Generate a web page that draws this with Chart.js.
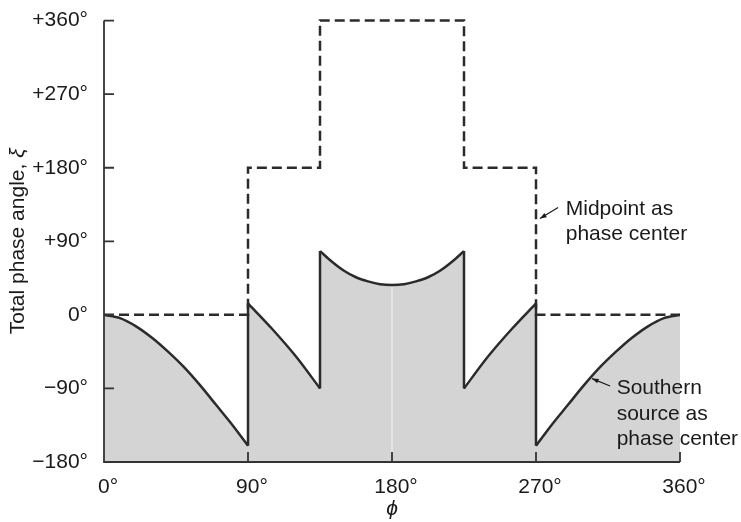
<!DOCTYPE html>
<html>
<head>
<meta charset="utf-8">
<script src="https://cdn.jsdelivr.net/npm/chart.js@4.4.1/dist/chart.umd.min.js"></script>
<style>
  body { margin: 0; background: #fff; }
</style>
</head>
<body>
<canvas id="phaseChart" width="741" height="522"></canvas>
<script>
// southern source as phase center (solid, shaded); null marks a jump
const phiS = [0, 10, 20, 30, 40, 50, 60, 70, 80, 90,
              90,
              90, 105, 120, 135,
              135,
              135, 142.5, 150, 157.5, 165, 172.5, 180, 187.5, 195, 202.5, 210, 217.5, 225,
              225,
              225, 240, 255, 270,
              270,
              270, 280, 290, 300, 310, 320, 330, 340, 350, 360]
const xiS = [0, -4, -14, -28, -45, -64, -86, -110, -134, -160,
             null,
             14, -17, -51, -90,
             null,
             78, 65, 54, 46, 41, 37.5, 36.5, 37.5, 41, 46, 54, 65, 78,
             null,
             -90, -51, -17, 14,
             null,
             -160, -134, -110, -86, -64, -45, -28, -14, -4, 0]

// the vertical jumps of the same curve
const phiJ = [90, 90, 90, 135, 135, 135, 225, 225, 225, 270, 270]
const xiJ = [-160, 14, null, -90, 78, null, 78, -90, null, 14, -160]

// midpoint as phase center (dashed)
const phiM = [0, 90, 90, 135, 135, 225, 225, 270, 270, 360]
const xiM = [0, 0, 180, 180, 360, 360, 180, 180, 0, 0]

const xTicks = [0, 90, 180, 270, 360]
const xTickLabels = ['0°', '90°', '180°', '270°', '360°']
const yTicks = [-180, -90, 0, 90, 180, 270, 360]
const yTickLabels = ['\u2212180°', '\u221290°', '0°', '+90°', '+180°', '+270°', '+360°']

// notes: [text lines, text x, baseline y, arrow from x,y, arrow to x,y] in data units
const notes = [
    [['Midpoint as', 'phase center'], 288.6, 122.4, 283.8, 131.3, 272.5, 117.8],
    [['Southern', 'source as', 'phase center'], 320.4, -97, 316.3, -87, 305, -78]
]

const ink = '#1a1a1a'
const fontFam = "'Liberation Sans', Arial, Helvetica, sans-serif"
Chart.defaults.font.family = fontFam
Chart.defaults.font.size = 21
Chart.defaults.color = ink

function pairs(xs, ys) {
    let out = []
    for (let i = 0; i < xs.length; i++) out.push({x: xs[i], y: ys[i]})
    return out
}

const extras = {
    id: 'extras',
    afterDatasetsDraw(chart) {
        const ctx = chart.ctx
        const x = chart.scales.x, y = chart.scales.y
        // faint seam in the shading at 180
        let i180 = phiS.indexOf(180)
        ctx.save()
        ctx.strokeStyle = 'rgba(255,255,255,0.7)'
        ctx.lineWidth = 1
        ctx.beginPath()
        ctx.moveTo(x.getPixelForValue(180), y.getPixelForValue(xiS[i180]) + 2)
        ctx.lineTo(x.getPixelForValue(180), y.getPixelForValue(-180))
        ctx.stroke()
        ctx.restore()
    },
    afterDraw(chart) {
        const ctx = chart.ctx
        const x = chart.scales.x, y = chart.scales.y
        const a = chart.chartArea
        ctx.save()
        // axes with inward ticks
        ctx.strokeStyle = '#333'
        ctx.lineWidth = 1.8
        ctx.beginPath()
        ctx.moveTo(a.left, a.top)
        ctx.lineTo(a.left, a.bottom)
        ctx.lineTo(a.right, a.bottom)
        xTicks.forEach(v => {
            let px = x.getPixelForValue(v)
            ctx.moveTo(px, a.bottom)
            ctx.lineTo(px, a.bottom - 10)
        })
        yTicks.forEach(v => {
            let py = y.getPixelForValue(v)
            ctx.moveTo(a.left, py)
            ctx.lineTo(a.left + 10, py)
        })
        ctx.stroke()

        // y title with italic xi
        ctx.fillStyle = ink
        ctx.textBaseline = 'middle'
        ctx.textAlign = 'left'
        let t1 = 'Total phase angle, ', t2 = 'ξ'
        ctx.font = '21px ' + fontFam
        let w1 = ctx.measureText(t1).width
        ctx.font = 'italic 21px ' + fontFam
        let w2 = ctx.measureText(t2).width
        ctx.translate(18, (a.top + a.bottom) / 2)
        ctx.rotate(-Math.PI / 2)
        ctx.font = '21px ' + fontFam
        ctx.fillText(t1, -(w1 + w2) / 2, 0)
        ctx.font = 'italic 21px ' + fontFam
        ctx.fillText(t2, -(w1 + w2) / 2 + w1, 0)
        ctx.setTransform(1, 0, 0, 1, 0, 0)

        // annotations
        ctx.font = '21px ' + fontFam
        ctx.textBaseline = 'alphabetic'
        notes.forEach(n => {
            let tx = x.getPixelForValue(n[1]), ty = y.getPixelForValue(n[2])
            n[0].forEach((line, k) => ctx.fillText(line, tx, ty + k * 25.5))
            let x0 = x.getPixelForValue(n[3]), y0 = y.getPixelForValue(n[4])
            let x1 = x.getPixelForValue(n[5]), y1 = y.getPixelForValue(n[6])
            let ang = Math.atan2(y1 - y0, x1 - x0)
            ctx.strokeStyle = ink
            ctx.lineWidth = 1.2
            ctx.beginPath()
            ctx.moveTo(x0, y0)
            ctx.lineTo(x1, y1)
            ctx.stroke()
            ctx.beginPath()
            ctx.moveTo(x1, y1)
            ctx.lineTo(x1 - 7 * Math.cos(ang - 0.35), y1 - 7 * Math.sin(ang - 0.35))
            ctx.lineTo(x1 - 7 * Math.cos(ang + 0.35), y1 - 7 * Math.sin(ang + 0.35))
            ctx.closePath()
            ctx.fillStyle = ink
            ctx.fill()
        })
        ctx.restore()
    }
}

new Chart(document.getElementById('phaseChart'), {
    type: 'line',
    data: {
        datasets: [{
            label: 'Midpoint as phase center',
            data: pairs(phiM, xiM),
            borderColor: '#2b2b2b',
            borderWidth: 2.5,
            borderDash: [10, 5],
            borderJoinStyle: 'miter',
            pointRadius: 0,
            fill: false,
            tension: 0,
            clip: 6
        }, {
            label: 'jumps',
            data: pairs(phiJ, xiJ),
            borderColor: '#2b2b2b',
            borderWidth: 2.5,
            pointRadius: 0,
            fill: false,
            spanGaps: false,
            tension: 0
        }, {
            label: 'Southern source as phase center',
            data: pairs(phiS, xiS),
            borderColor: '#2b2b2b',
            borderWidth: 2.5,
            borderJoinStyle: 'round',
            backgroundColor: '#d4d4d4',
            pointRadius: 0,
            fill: {value: -180},
            spanGaps: false,
            tension: 0.3
        }]
    },
    options: {
        responsive: false,
        animation: false,
        devicePixelRatio: 1,
        layout: {padding: {top: 15, right: 61, bottom: 0, left: 0}},
        plugins: {legend: {display: false}, tooltip: {enabled: false}},
        scales: {
            x: {
                type: 'linear',
                min: 0,
                max: 360,
                afterBuildTicks: s => { s.ticks = xTicks.map(v => ({value: v})) },
                afterFit: s => { s.height = 60 },
                grid: {display: false},
                border: {display: false},
                ticks: {
                    callback: v => xTickLabels[xTicks.indexOf(v)],
                    padding: 5,
                    labelOffset: 4,
                    maxRotation: 0,
                    autoSkip: false
                },
                title: {display: true, text: 'ϕ', font: {style: 'italic', size: 21}, padding: {top: 0, bottom: 0}}
            },
            y: {
                type: 'linear',
                min: -180,
                max: 360,
                afterBuildTicks: s => { s.ticks = yTicks.map(v => ({value: v})) },
                afterFit: s => { s.width = 104 },
                grid: {display: false},
                border: {display: false},
                ticks: {
                    callback: v => yTickLabels[yTicks.indexOf(v)],
                    padding: 8,
                    autoSkip: false
                }
            }
        }
    },
    plugins: [extras]
})
</script>
</body>
</html>
